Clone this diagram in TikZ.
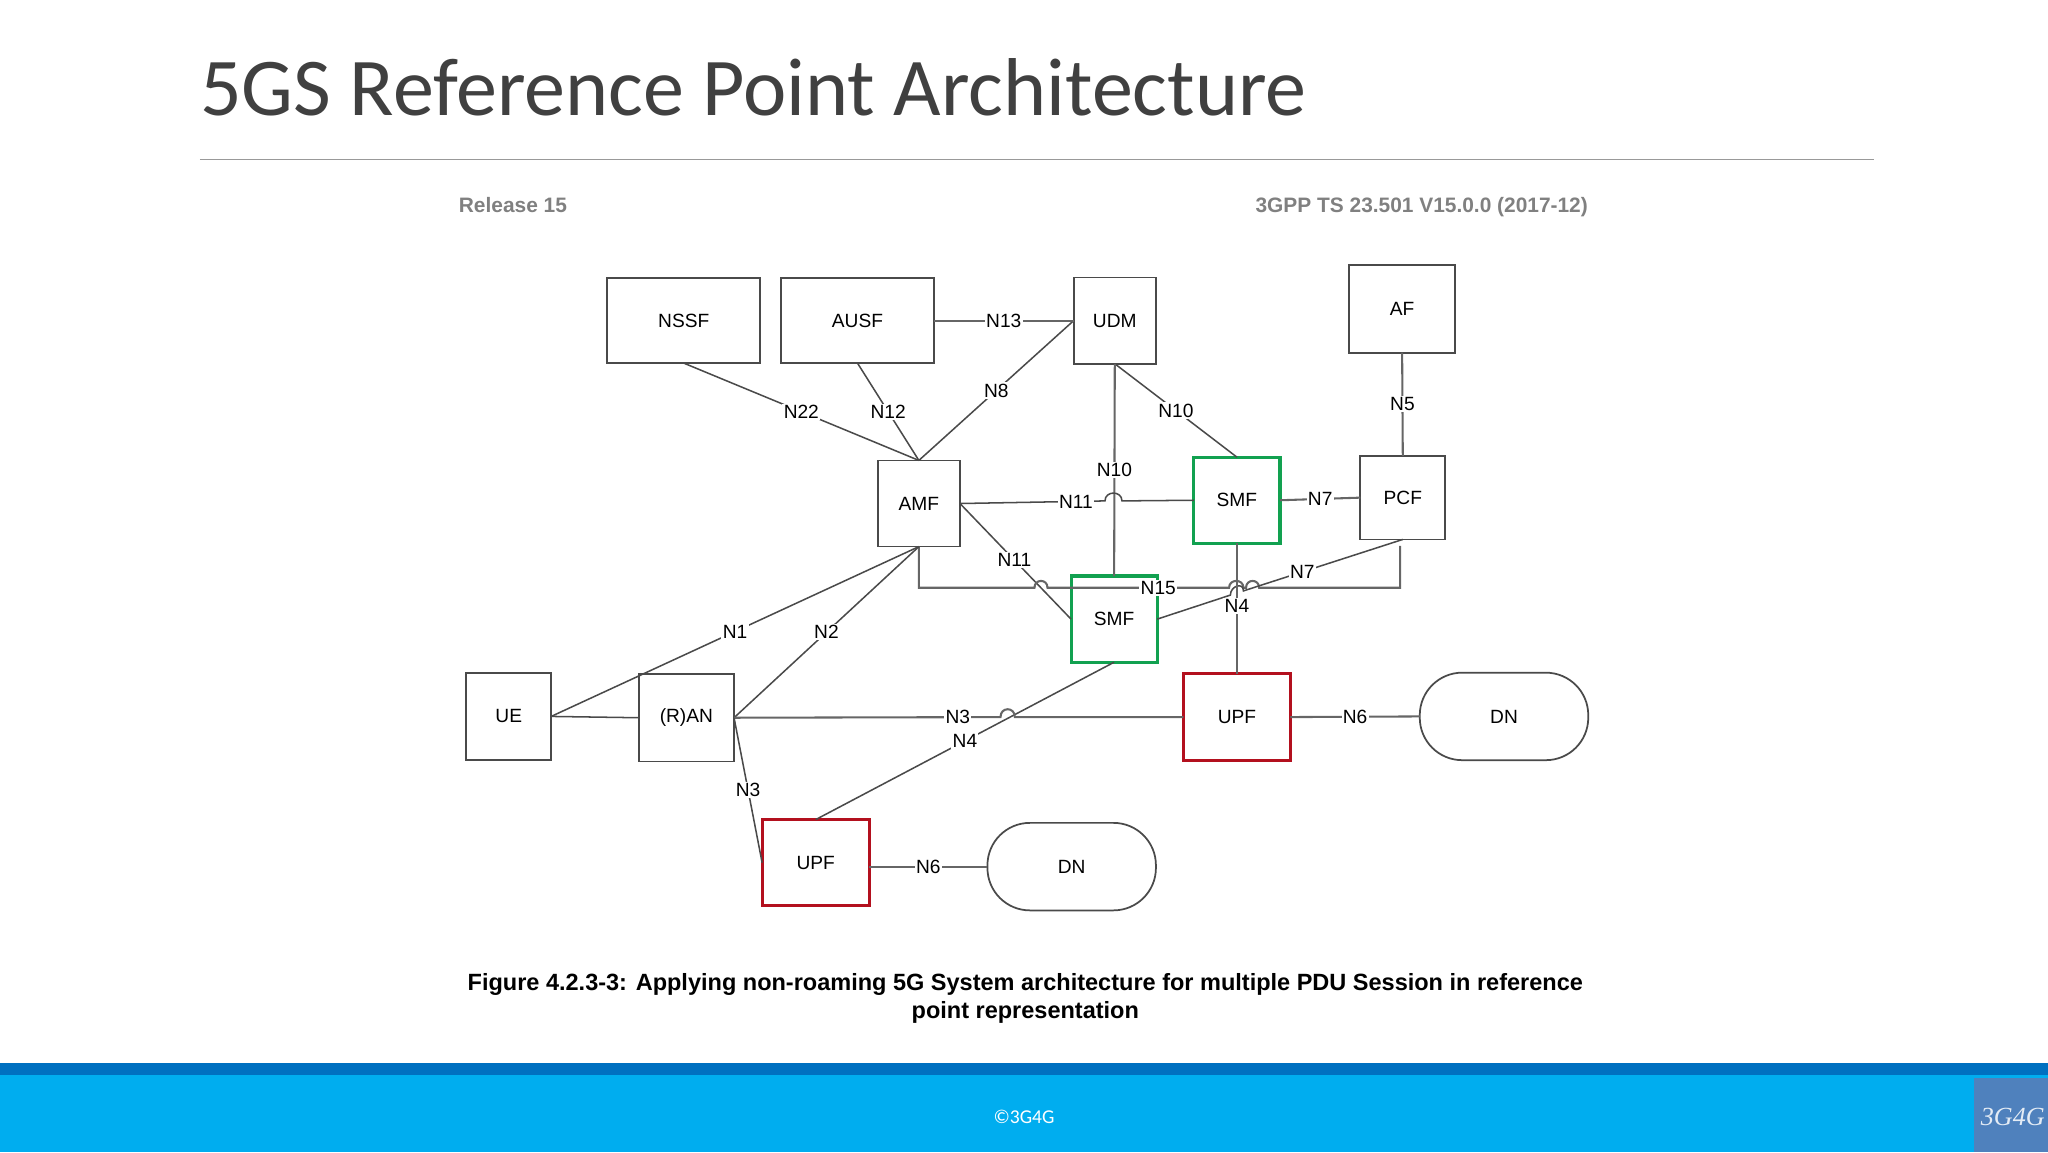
\documentclass[tikz,border=0pt]{standalone}
\usepackage{fontspec}
\setmainfont{Liberation Sans}
\newfontfamily\slidefont{Carlito}
\newfontfamily\logofont{Liberation Serif}
\usetikzlibrary{positioning}
\definecolor{smfgreen}{HTML}{12A150}
\definecolor{upfred}{HTML}{B3101E}
\definecolor{barblue}{HTML}{0070C0}
\definecolor{footblue}{HTML}{00ADEF}
\definecolor{logoblue}{HTML}{4F81BD}
\definecolor{linegrey}{HTML}{4A4A4A}
\newcommand{\nffont}{\fontsize{8.8pt}{10pt}\selectfont}

\begin{document}
\begin{tikzpicture}[x=0.6pt, y=-0.6pt,
                    nf/.style = {draw=linegrey, line width=0.8pt, inner sep=0pt, outer sep=0pt, font=\nffont},
                    widebox/.style = {nf, minimum width=70.2pt, minimum height=39pt},
                    squarebox/.style = {nf, minimum width=39pt, minimum height=39.6pt},
                    smf/.style = {nf, draw=smfgreen, line width=1.4pt, minimum width=39.6pt, minimum height=39.6pt},
                    upf/.style = {nf, draw=upfred, line width=1.4pt, minimum width=49.2pt, minimum height=39.6pt},
                    dn/.style = {nf, rounded corners=19.5pt, minimum width=77.4pt, minimum height=40.2pt},
                    link/.style = {draw=linegrey, line width=0.7pt},
                    greylink/.style = {draw=black!60, line width=0.95pt},
                    lbl/.style = {fill=white, inner sep=0.6pt, font=\nffont}]
    \useasboundingbox (0,0) rectangle (1568,882);

    % slide frame
    \node[anchor=west, inner sep=0pt, text=black!75, font=\slidefont\fontsize{37.7pt}{44pt}\selectfont] (title) at (153,67) {5GS Reference Point Architecture};
    \coordinate (ruleleft) at (153,122);
    \coordinate (ruleright) at (1435,122);
    \draw[black!40, line width=0.6pt] (ruleleft) -- (ruleright);
    \fill[barblue] (0,814) rectangle (1568,823);
    \fill[footblue] (0,823) rectangle (1568,882);
    \fill[logoblue] (1511,825) rectangle (1568,882);
    \node[text=white, font=\slidefont\fontsize{9pt}{10pt}\selectfont] (copy) at (784,855) {©3G4G};
    \node[text=white!85!logoblue, font=\logofont\itshape\fontsize{12pt}{13pt}\selectfont] (logo) at (1541,855) {3G4G};

    % page header and caption
    \node[anchor=base west, inner sep=0pt, text=black!50, font=\bfseries\fontsize{9.6pt}{11pt}\selectfont] (release) at (351,162.5) {Release 15};
    \node[anchor=base east, inner sep=0pt, text=black!50, font=\bfseries\fontsize{9.6pt}{11pt}\selectfont] (spec) at (1216,162.5) {3GPP TS 23.501 V15.0.0 (2017-12)};
    \node[align=center, inner sep=0pt, font=\bfseries\fontsize{10.8pt}{12.6pt}\selectfont] (caption) at (785,764.5) {Figure 4.2.3-3: Applying non-roaming 5G System architecture for multiple PDU Session in reference\\point representation};

    % network functions
    \node[widebox] (nssf) at (523.5,245.5) {NSSF};
    \node[widebox] (ausf) at (656.5,245.5) {AUSF};
    \node[squarebox, minimum width=37.8pt] (udm) at (853.5,245.5) {UDM};
    \node[squarebox, minimum width=48.6pt, minimum height=40.2pt] (af) at (1073.5,236.5) {AF};
    \node[squarebox, minimum width=37.8pt] (amf) at (703.5,385.5) {AMF};
    \node[smf] (smftop) at (947,383) {SMF};
    \node[squarebox, minimum height=38.4pt] (pcf) at (1074,381) {PCF};
    \node[smf] (smflow) at (853,474) {SMF};
    \node[squarebox, minimum height=40.2pt] (ue) at (389.5,548.5) {UE};
    \node[squarebox, minimum width=43.8pt, minimum height=40.2pt] (ran) at (525.5,549.5) {(R)AN};
    \node[upf] (upfright) at (947,549) {UPF};
    \node[upf] (upfleft) at (624.5,660.5) {UPF};
    \node[dn] (dnright) at (1151.5,548.5) {DN};
    \node[dn] (dnleft) at (820.5,663.5) {DN};

    % line hops
    \coordinate (n11a) at (846,383.5);
    \coordinate (n11b) at (859,383.5);
    \coordinate (n3a) at (766,549);
    \coordinate (n3b) at (777,549);
    \coordinate (n15a) at (792,450);
    \coordinate (n15b) at (802,450);
    \coordinate (n15c) at (941,450);
    \coordinate (n15d) at (952,450);
    \coordinate (n15e) at (954,450);
    \coordinate (n15f) at (964,450);
    \coordinate (n15g) at (1072,450);
    \coordinate (n15h) at (1072,418);
    \coordinate (n15i) at (703.5,450);
    \coordinate (n7a) at (942,455.6);
    \coordinate (n7b) at (952,452.4);

    \draw[link] (nssf.south) -- (amf.north) node[lbl, midway] (n22) {N22};
    \draw[link] (ausf.south) -- (amf.north) node[lbl, midway] (n12) {N12};
    \draw[link] (udm.west) -- (amf.north) node[lbl, midway] (n8) {N8};
    \draw[greylink] (ausf.east) -- (udm.west) node[lbl, midway] (n13) {N13};
    \draw[link] (udm.south) -- (smftop.north) node[lbl, midway] (n10b) {N10};
    \draw[greylink] (udm.south) -- (smflow.north) node[lbl, midway] (n10a) {N10};
    \draw[greylink] (af.south) -- (pcf.north) node[lbl, midway] (n5) {N5};
    \draw[greylink] (smftop.east) -- (pcf.west) node[lbl, midway] (n7top) {N7};
    \draw[link] (amf.east) -- (n11a) node[lbl, pos=0.8] (n11top) {N11}
        .. controls +(0,-8) and +(0,-8) .. (n11b) -- (smftop.west);
    \draw[link] (amf.east) -- (smflow.west) node[lbl, pos=0.49] (n11low) {N11};
    \draw[greylink] (amf.south) -- (n15i) -- (n15a)
        .. controls +(0,-7) and +(0,-7) .. (n15b) -- (n15c) node[lbl, pos=0.61] (n15) {N15}
        .. controls +(0,-7) and +(0,-7) .. (n15d) -- (n15e)
        .. controls +(0,-7) and +(0,-7) .. (n15f) -- (n15g) -- (n15h);
    \draw[link] (smflow.east) -- (n7a)
        .. controls +(0,-7) and +(0,-7) .. (n7b) -- (pcf.south) node[lbl, pos=0.37] (n7low) {N7};
    \draw[greylink] (smftop.south) -- (upfright.north) node[lbl, pos=0.48] (n4top) {N4};
    \draw[link] (smflow.south) -- (upfleft.north) node[lbl, midway] (n4low) {N4};
    \draw[link] (ue.east) -- (amf.south) node[lbl, midway] (n1) {N1};
    \draw[link] (ran.east) -- (amf.south) node[lbl, midway] (n2) {N2};
    \draw[link] (ue.east) -- (ran.west);
    \draw[greylink] (ran.east) -- (n3a) node[lbl, pos=0.84] (n3top) {N3}
        .. controls +(0,-8) and +(0,-8) .. (n3b) -- (upfright.west);
    \draw[link] (ran.east) -- (upfleft.west) node[lbl, midway] (n3low) {N3};
    \draw[greylink] (upfleft.east |- dnleft.west) -- (dnleft.west) node[lbl, midway] (n6low) {N6};
    \draw[greylink] (upfright.east) -- (dnright.west) node[lbl, midway] (n6top) {N6};
\end{tikzpicture}
\end{document}
